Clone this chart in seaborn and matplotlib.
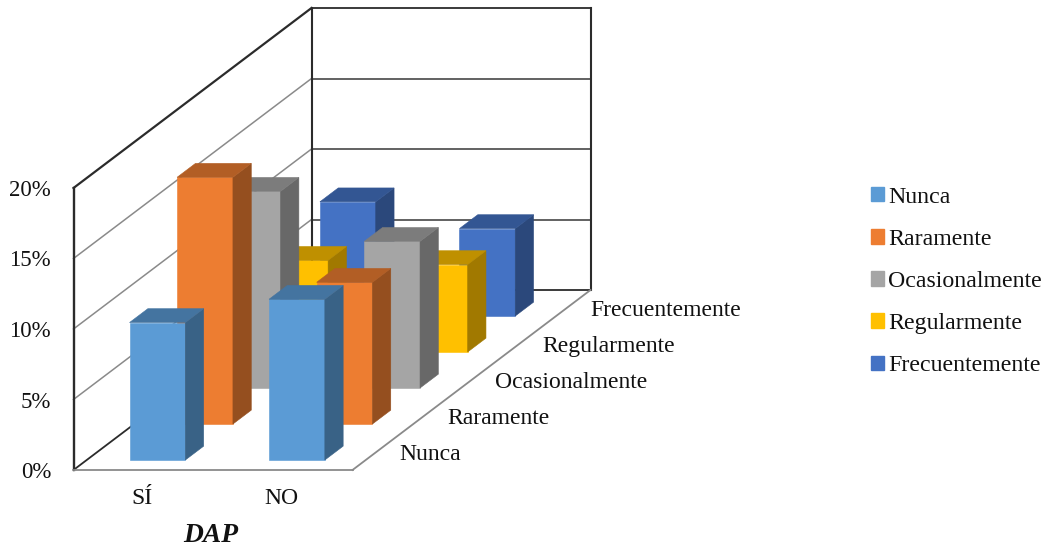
import matplotlib
matplotlib.use("Agg")
import matplotlib.pyplot as plt
from matplotlib.patches import Patch, Polygon
import seaborn as sns

# Survey shares (%) per DAP group and frequency
groups = ["SÍ", "NO"]
frequencies = ["Nunca", "Raramente", "Ocasionalmente", "Regularmente", "Frecuentemente"]
si_values = [9.75, 17.5, 13.95, 6.5, 8.1]
no_values = [11.4, 10.05, 10.4, 6.2, 6.2]
value_ticks = [0, 5, 10, 15, 20]
series_colors = ["#5B9BD5", "#ED7D31", "#A5A5A5", "#FFC000", "#4472C4"]

sns.set_theme(style="white")
plt.rcParams["font.family"] = ["Liberation Serif", "DejaVu Serif"]
palette = sns.color_palette(series_colors)

fig = plt.figure(figsize=(10.45, 5.46), dpi=100)
ax = fig.add_axes([0, 0, 1, 1])
ax.set_xlim(0, 1045)
ax.set_ylim(546, 0)
ax.axis("off")

# Oblique projection of (group, depth, value) onto the canvas
ORIGIN_X, ORIGIN_Y = 73.5, 470.0
GROUP_W = 139.5
DEPTH_DX, DEPTH_DY = 47.6, -36.0
VALUE_H = 14.1
BAR_W = 0.4
BAR_D = 0.385
BAR_SHIFT = 0.007


def project(g, d, v):
    return (ORIGIN_X + g * GROUP_W + d * DEPTH_DX,
            ORIGIN_Y + d * DEPTH_DY - v * VALUE_H)


def shade(color, factor):
    return tuple(c * factor for c in color)


def frame_line(p, q, color, lw):
    ax.plot([p[0], q[0]], [p[1], q[1]], color=color, lw=lw,
            solid_capstyle="projecting", zorder=1)


n_g, n_d, top = len(groups), len(frequencies), value_ticks[-1]
DARK, GRID = "#2b2b2b", "#8a8a8a"
TEXT = "#111111"

# Horizontal gridlines across the side and back walls
for v in value_ticks:
    color, lw = (DARK, 1.6) if v == top else (GRID, 1.1)
    if v == 0:
        color, lw = DARK, 1.3
    frame_line(project(0, 0, v), project(0, n_d, v), color, lw)
    frame_line(project(0, n_d, v), project(n_g, n_d, v), DARK if v in (0, top) else "#555555", 1.3)
    ax.text(51, project(0, 0, v)[1] + 2.5, f"{v}%", ha="right", va="center", fontsize=16.5, color=TEXT)

# Wall edges and floor
frame_line(project(0, 0, 0), project(0, 0, top), DARK, 1.7)
frame_line(project(0, n_d, 0), project(0, n_d, top), DARK, 1.5)
frame_line(project(n_g, n_d, 0), project(n_g, n_d, top), DARK, 1.5)
frame_line(project(0, 0, 0), project(n_g, 0, 0), GRID, 1.3)
frame_line(project(n_g, 0, 0), project(n_g, n_d, 0), GRID, 1.3)

# Bars, drawn from the back row to the front row
for d in reversed(range(n_d)):
    base = palette[d]
    for g, values in enumerate([si_values, no_values]):
        v = values[d]
        x0, x1 = g + (1 - BAR_W) / 2 + BAR_SHIFT, g + (1 + BAR_W) / 2 + BAR_SHIFT
        d0, d1 = d + (1 - BAR_D) / 2 - 0.03, d + (1 + BAR_D) / 2 - 0.03
        faces = [
            ([(x0, d0, 0), (x1, d0, 0), (x1, d0, v), (x0, d0, v)], base),
            ([(x1, d0, 0), (x1, d1, 0), (x1, d1, v), (x1, d0, v)], shade(base, 0.63)),
            ([(x0, d0, v), (x1, d0, v), (x1, d1, v), (x0, d1, v)], shade(base, 0.75)),
        ]
        for corners, color in faces:
            ax.add_patch(Polygon([project(*c) for c in corners], closed=True,
                                 facecolor=color, edgecolor=color, lw=0.4, zorder=3 + (n_d - d)))

# Category labels along the floor edges
for g, name in enumerate(groups):
    x, _ = project(g + 0.5, 0, 0)
    ax.text(x - 1.5, 499, name, ha="center", va="center", fontsize=17, color=TEXT)
for d, name in enumerate(frequencies):
    x, y = project(n_g, d + 0.5, 0)
    ax.text(x + 23.5, y + 2.5, name, ha="left", va="center", fontsize=17, color=TEXT)

ax.text(211, 535, "DAP", ha="center", va="center", fontsize=19.8,
        fontweight="bold", fontstyle="italic", color=TEXT)

handles = [Patch(facecolor=c, edgecolor=c, label=f) for c, f in zip(palette, frequencies)]
ax.legend(handles=handles, loc="center left", bbox_to_anchor=(871 / 1045, 1 - 281.5 / 546),
          frameon=False, fontsize=17.2, labelcolor=TEXT,
          handlelength=0.55, handleheight=0.55, handletextpad=0.18,
          labelspacing=0.885, borderpad=0, borderaxespad=0)

fig.savefig("out.png", dpi=100, facecolor="white")
